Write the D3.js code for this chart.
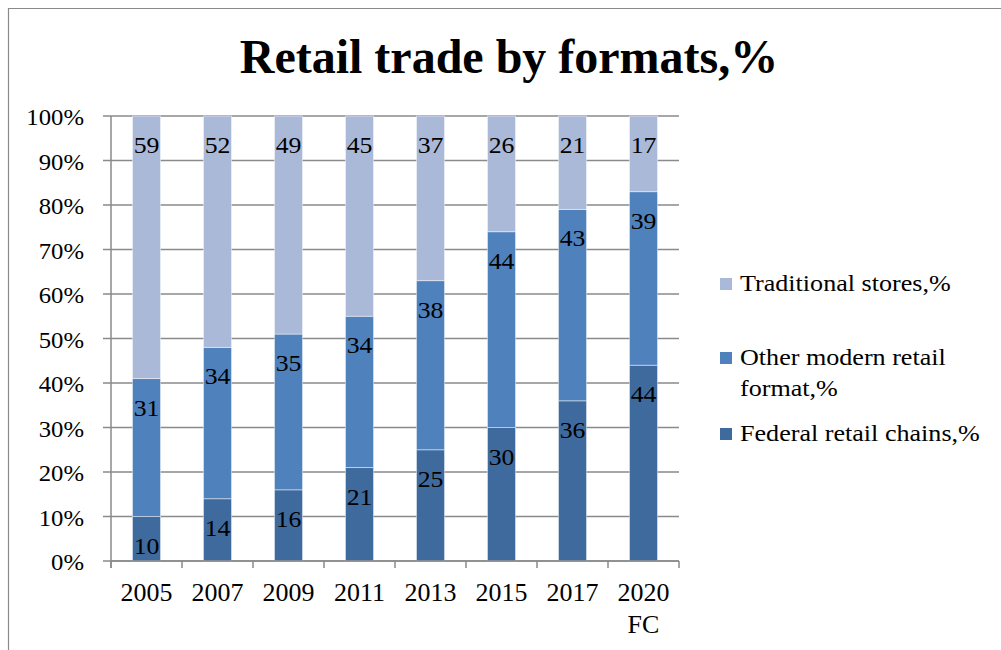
<!DOCTYPE html>
<html>
<head>
<meta charset="utf-8">
<script src="https://cdn.jsdelivr.net/npm/d3@7/dist/d3.min.js"></script>
<style>
  html, body { margin: 0; padding: 0; background: #fff; }
  svg { display: block; font-family: "Liberation Serif", "Times New Roman", serif; }
</style>
</head>
<body>
<svg id="chart" width="1001" height="650"></svg>
<script>
// Years on the category axis (second line used for the forecast year)
const years = ["2005", "2007", "2009", "2011", "2013", "2015", "2017", "2020 FC"];

// Shares of retail trade, % (stacked from the bottom up)
const federalChains = [10, 14, 16, 21, 25, 30, 36, 44];
const otherModern   = [31, 34, 35, 34, 38, 44, 43, 39];
const traditional   = [59, 52, 49, 45, 37, 26, 21, 17];

const seriesNames = ["Federal retail chains,%", "Other modern retail format,%", "Traditional stores,%"];
const yTicks = [0, 10, 20, 30, 40, 50, 60, 70, 80, 90, 100];

const colors = {
  "Federal retail chains,%": "#3F6A9D",
  "Other modern retail format,%": "#4F81BD",
  "Traditional stores,%": "#AAB9D7"
};

const rows = years.map((y, i) => ({
  year: y,
  "Federal retail chains,%": federalChains[i],
  "Other modern retail format,%": otherModern[i],
  "Traditional stores,%": traditional[i]
}));

const svg = d3.select("#chart");

// Places a text element at (px, py) with a slight horizontal widening
function place(sel, px, py, sx) {
  sel.attr("transform", d => `translate(${px(d)},${py(d)}) scale(${sx},1)`);
}

// Outer frame (top and left edges)
svg.append("path")
  .attr("d", "M8.5,650 V8.5 H1001")
  .attr("fill", "none")
  .attr("stroke", "#8a8a8a")
  .attr("stroke-width", 1.2);

// Title
svg.append("text")
  .attr("x", 509)
  .attr("y", 73)
  .attr("text-anchor", "middle")
  .attr("font-size", 48)
  .attr("font-weight", "bold")
  .attr("fill", "#000")
  .text("Retail trade by formats,%");

const plot = { left: 111, right: 679, top: 116, bottom: 561 };

const x = d3.scaleBand()
  .domain(years)
  .range([plot.left, plot.right])
  .paddingInner(0.605)
  .paddingOuter(0.3025);

const y = d3.scaleLinear()
  .domain([0, 100])
  .range([plot.bottom, plot.top]);

// Horizontal gridlines with short ticks left of the axis
const grid = svg.append("g");
grid.selectAll("line")
  .data(yTicks)
  .join("line")
  .attr("x1", plot.left - 8)
  .attr("x2", plot.right)
  .attr("y1", d => y(d))
  .attr("y2", d => y(d))
  .attr("stroke", "#8a8a8a")
  .attr("stroke-width", 1.5);

// Y tick labels
svg.append("g")
  .selectAll("text")
  .data(yTicks)
  .join("text")
  .attr("text-anchor", "end")
  .attr("font-size", 24)
  .attr("fill", "#000")
  .call(place, () => 84, d => y(d) + 9, 1.03)
  .text(d => d + "%");

// Stacked bars
const stack = d3.stack().keys(seriesNames);
const layers = stack(rows);

const layerG = svg.append("g")
  .selectAll("g")
  .data(layers)
  .join("g")
  .attr("fill", d => colors[d.key]);

layerG.selectAll("rect")
  .data(d => d)
  .join("rect")
  .attr("x", d => x(d.data.year))
  .attr("width", x.bandwidth())
  .attr("y", d => y(d[1]))
  .attr("height", d => y(d[0]) - y(d[1]))
  .attr("stroke", "rgba(255,255,255,0.45)")
  .attr("stroke-width", 1);

// Data labels, placed just inside the top of each segment
layerG.selectAll("text")
  .data(d => d.map(p => ({ p, key: d.key })))
  .join("text")
  .attr("text-anchor", "middle")
  .attr("font-size", 23)
  .attr("fill", "#000")
  .call(place, d => x(d.p.data.year) + x.bandwidth() / 2, d => y(d.p[1]) + 37, 1.12)
  .text(d => d.p.data[d.key]);

// Axes lines and category ticks
const axisG = svg.append("g").attr("stroke", "#8a8a8a").attr("stroke-width", 1.5);
axisG.append("line")
  .attr("x1", plot.left).attr("x2", plot.left)
  .attr("y1", plot.top).attr("y2", plot.bottom + 7);
axisG.append("line")
  .attr("x1", plot.left).attr("x2", plot.right)
  .attr("y1", plot.bottom).attr("y2", plot.bottom);

const step = x.step();
const tickXs = d3.range(years.length + 1).map(i => plot.left + i * step);
axisG.selectAll("line.tick")
  .data(tickXs)
  .join("line")
  .attr("class", "tick")
  .attr("x1", d => d).attr("x2", d => d)
  .attr("y1", plot.bottom).attr("y2", plot.bottom + 7);

// Category labels (multi-line for the forecast year)
const xl = svg.append("g")
  .selectAll("text")
  .data(years)
  .join("text")
  .attr("text-anchor", "middle")
  .attr("font-size", 24.5)
  .attr("fill", "#000")
  .call(place, d => x(d) + x.bandwidth() / 2, () => 601, 1.06);
xl.each(function(d) {
  const parts = d.split(" ");
  const t = d3.select(this);
  parts.forEach((p, i) => {
    t.append("tspan")
      .attr("x", 0)
      .attr("dy", i === 0 ? 0 : 32)
      .text(p);
  });
});

// Legend (top entry is the top of the stack)
const legendItems = [
  { key: "Traditional stores,%", lines: ["Traditional stores,%"], baseline: 291 },
  { key: "Other modern retail format,%", lines: ["Other modern retail", "format,%"], baseline: 365 },
  { key: "Federal retail chains,%", lines: ["Federal retail chains,%"], baseline: 441 }
];

const lg = svg.append("g")
  .selectAll("g")
  .data(legendItems)
  .join("g");

lg.append("rect")
  .attr("x", 720)
  .attr("y", d => d.baseline - 13)
  .attr("width", 12)
  .attr("height", 12)
  .attr("fill", d => colors[d.key]);

lg.append("text")
  .attr("font-size", 22.5)
  .attr("fill", "#000")
  .call(place, () => 740, d => d.baseline, 1.16)
  .each(function(d) {
    const t = d3.select(this);
    d.lines.forEach((line, i) => {
      t.append("tspan")
        .attr("x", 0)
        .attr("dy", i === 0 ? 0 : 31)
        .text(line);
    });
  });
</script>
</body>
</html>
